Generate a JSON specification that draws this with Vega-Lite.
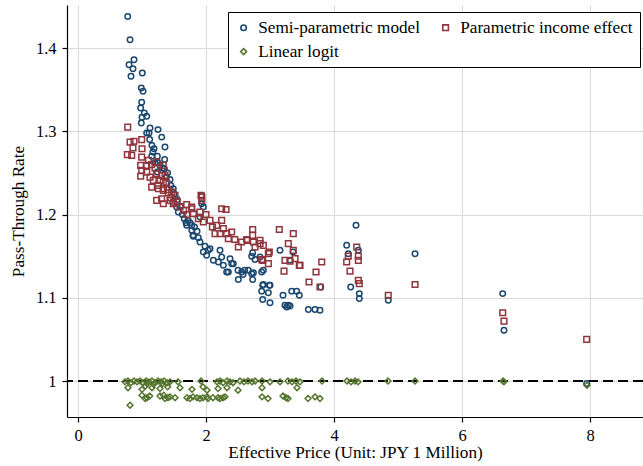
{
  "$schema": "https://vega.github.io/schema/vega-lite/v6.json",
  "autosize": "none",
  "width": 576,
  "height": 412,
  "padding": {"left": 67, "top": 5, "right": 0, "bottom": 49},
  "background": "white",
  "config": {
    "view": {"stroke": null},
    "axis": {
      "domainColor": "black", "domainWidth": 1.2, "tickColor": "black", "tickSize": 5, "tickWidth": 1.2,
      "labelFont": "Liberation Serif", "labelFontSize": 16.5, "labelColor": "black",
      "titleFont": "Liberation Serif", "titleFontSize": 17.2, "titleFontWeight": "normal", "titleColor": "black",
      "gridColor": "#d9d9d9", "gridWidth": 1
    },
    "legend": {
      "strokeColor": "black", "fillColor": "white", "padding": 7, "strokeWidth": 1,
      "labelFont": "Liberation Serif", "labelFontSize": 17.2, "labelColor": "black", "labelLimit": 300,
      "symbolSize": 24, "symbolStrokeWidth": 1.6, "labelOffset": 6, "columnPadding": 17, "rowPadding": 6
    }
  },
  "data": {"values": [
    {"series":"Semi-parametric model","price":0.777,"ptr":1.438},
    {"series":"Semi-parametric model","price":0.813,"ptr":1.410},
    {"series":"Semi-parametric model","price":0.875,"ptr":1.386},
    {"series":"Semi-parametric model","price":0.797,"ptr":1.380},
    {"series":"Semi-parametric model","price":0.859,"ptr":1.375},
    {"series":"Semi-parametric model","price":0.828,"ptr":1.366},
    {"series":"Semi-parametric model","price":1.005,"ptr":1.370},
    {"series":"Semi-parametric model","price":0.989,"ptr":1.352},
    {"series":"Semi-parametric model","price":1.016,"ptr":1.348},
    {"series":"Semi-parametric model","price":0.995,"ptr":1.335},
    {"series":"Semi-parametric model","price":0.979,"ptr":1.328},
    {"series":"Semi-parametric model","price":1.036,"ptr":1.322},
    {"series":"Semi-parametric model","price":1.073,"ptr":1.318},
    {"series":"Semi-parametric model","price":1.000,"ptr":1.317},
    {"series":"Semi-parametric model","price":0.989,"ptr":1.310},
    {"series":"Semi-parametric model","price":1.125,"ptr":1.304},
    {"series":"Semi-parametric model","price":1.250,"ptr":1.302},
    {"series":"Semi-parametric model","price":1.073,"ptr":1.298},
    {"series":"Semi-parametric model","price":1.110,"ptr":1.298},
    {"series":"Semi-parametric model","price":1.308,"ptr":1.293},
    {"series":"Semi-parametric model","price":1.120,"ptr":1.290},
    {"series":"Semi-parametric model","price":1.155,"ptr":1.283},
    {"series":"Semi-parametric model","price":1.359,"ptr":1.281},
    {"series":"Semi-parametric model","price":1.188,"ptr":1.279},
    {"series":"Semi-parametric model","price":1.151,"ptr":1.270},
    {"series":"Semi-parametric model","price":1.240,"ptr":1.270},
    {"series":"Semi-parametric model","price":1.354,"ptr":1.266},
    {"series":"Semi-parametric model","price":1.250,"ptr":1.262},
    {"series":"Semi-parametric model","price":1.281,"ptr":1.259},
    {"series":"Semi-parametric model","price":1.323,"ptr":1.256},
    {"series":"Semi-parametric model","price":1.240,"ptr":1.251},
    {"series":"Semi-parametric model","price":1.380,"ptr":1.245},
    {"series":"Semi-parametric model","price":1.438,"ptr":1.242},
    {"series":"Semi-parametric model","price":1.489,"ptr":1.231},
    {"series":"Semi-parametric model","price":1.542,"ptr":1.209},
    {"series":"Semi-parametric model","price":1.567,"ptr":1.203},
    {"series":"Semi-parametric model","price":1.933,"ptr":1.223},
    {"series":"Semi-parametric model","price":1.958,"ptr":1.209},
    {"series":"Semi-parametric model","price":1.933,"ptr":1.213},
    {"series":"Semi-parametric model","price":1.698,"ptr":1.187},
    {"series":"Semi-parametric model","price":1.778,"ptr":1.181},
    {"series":"Semi-parametric model","price":1.797,"ptr":1.175},
    {"series":"Semi-parametric model","price":1.778,"ptr":1.187},
    {"series":"Semi-parametric model","price":1.906,"ptr":1.197},
    {"series":"Semi-parametric model","price":1.906,"ptr":1.167},
    {"series":"Semi-parametric model","price":1.984,"ptr":1.162},
    {"series":"Semi-parametric model","price":2.063,"ptr":1.159},
    {"series":"Semi-parametric model","price":1.958,"ptr":1.155},
    {"series":"Semi-parametric model","price":2.010,"ptr":1.151},
    {"series":"Semi-parametric model","price":2.115,"ptr":1.145},
    {"series":"Semi-parametric model","price":2.219,"ptr":1.157},
    {"series":"Semi-parametric model","price":2.245,"ptr":1.149},
    {"series":"Semi-parametric model","price":2.193,"ptr":1.143},
    {"series":"Semi-parametric model","price":2.271,"ptr":1.139},
    {"series":"Semi-parametric model","price":2.375,"ptr":1.147},
    {"series":"Semi-parametric model","price":2.401,"ptr":1.141},
    {"series":"Semi-parametric model","price":2.349,"ptr":1.131},
    {"series":"Semi-parametric model","price":2.557,"ptr":1.131},
    {"series":"Semi-parametric model","price":2.661,"ptr":1.133},
    {"series":"Semi-parametric model","price":2.714,"ptr":1.129},
    {"series":"Semi-parametric model","price":2.505,"ptr":1.122},
    {"series":"Semi-parametric model","price":2.729,"ptr":1.122},
    {"series":"Semi-parametric model","price":2.844,"ptr":1.149},
    {"series":"Semi-parametric model","price":2.714,"ptr":1.150},
    {"series":"Semi-parametric model","price":2.896,"ptr":1.133},
    {"series":"Semi-parametric model","price":3.000,"ptr":1.115},
    {"series":"Semi-parametric model","price":2.886,"ptr":1.115},
    {"series":"Semi-parametric model","price":3.156,"ptr":1.157},
    {"series":"Semi-parametric model","price":3.360,"ptr":1.155},
    {"series":"Semi-parametric model","price":2.729,"ptr":1.154},
    {"series":"Semi-parametric model","price":2.766,"ptr":1.146},
    {"series":"Semi-parametric model","price":2.500,"ptr":1.133},
    {"series":"Semi-parametric model","price":2.604,"ptr":1.133},
    {"series":"Semi-parametric model","price":2.578,"ptr":1.128},
    {"series":"Semi-parametric model","price":2.740,"ptr":1.130},
    {"series":"Semi-parametric model","price":2.870,"ptr":1.131},
    {"series":"Semi-parametric model","price":2.896,"ptr":1.116},
    {"series":"Semi-parametric model","price":2.990,"ptr":1.115},
    {"series":"Semi-parametric model","price":2.870,"ptr":1.108},
    {"series":"Semi-parametric model","price":2.974,"ptr":1.106},
    {"series":"Semi-parametric model","price":2.886,"ptr":1.098},
    {"series":"Semi-parametric model","price":3.000,"ptr":1.094},
    {"series":"Semi-parametric model","price":3.313,"ptr":1.145},
    {"series":"Semi-parametric model","price":3.203,"ptr":1.103},
    {"series":"Semi-parametric model","price":3.339,"ptr":1.108},
    {"series":"Semi-parametric model","price":3.417,"ptr":1.108},
    {"series":"Semi-parametric model","price":3.458,"ptr":1.103},
    {"series":"Semi-parametric model","price":3.234,"ptr":1.091},
    {"series":"Semi-parametric model","price":3.260,"ptr":1.089},
    {"series":"Semi-parametric model","price":3.286,"ptr":1.091},
    {"series":"Semi-parametric model","price":3.313,"ptr":1.090},
    {"series":"Semi-parametric model","price":3.599,"ptr":1.086},
    {"series":"Semi-parametric model","price":3.703,"ptr":1.086},
    {"series":"Semi-parametric model","price":3.781,"ptr":1.085},
    {"series":"Semi-parametric model","price":3.792,"ptr":1.113},
    {"series":"Semi-parametric model","price":4.344,"ptr":1.187},
    {"series":"Semi-parametric model","price":4.198,"ptr":1.163},
    {"series":"Semi-parametric model","price":4.223,"ptr":1.153},
    {"series":"Semi-parametric model","price":4.261,"ptr":1.113},
    {"series":"Semi-parametric model","price":4.380,"ptr":1.157},
    {"series":"Semi-parametric model","price":4.395,"ptr":1.105},
    {"series":"Semi-parametric model","price":4.395,"ptr":1.099},
    {"series":"Semi-parametric model","price":4.848,"ptr":1.097},
    {"series":"Semi-parametric model","price":5.266,"ptr":1.153},
    {"series":"Semi-parametric model","price":6.636,"ptr":1.105},
    {"series":"Semi-parametric model","price":6.656,"ptr":1.061},
    {"series":"Semi-parametric model","price":7.948,"ptr":0.997},
    {"series":"Semi-parametric model","price":1.350,"ptr":1.255},
    {"series":"Semi-parametric model","price":1.400,"ptr":1.250},
    {"series":"Semi-parametric model","price":1.450,"ptr":1.235},
    {"series":"Semi-parametric model","price":1.500,"ptr":1.225},
    {"series":"Semi-parametric model","price":1.550,"ptr":1.218},
    {"series":"Semi-parametric model","price":1.600,"ptr":1.210},
    {"series":"Semi-parametric model","price":1.630,"ptr":1.200},
    {"series":"Semi-parametric model","price":1.660,"ptr":1.195},
    {"series":"Semi-parametric model","price":1.720,"ptr":1.193},
    {"series":"Semi-parametric model","price":1.750,"ptr":1.190},
    {"series":"Semi-parametric model","price":1.820,"ptr":1.185},
    {"series":"Semi-parametric model","price":1.860,"ptr":1.180},
    {"series":"Semi-parametric model","price":1.880,"ptr":1.172},
    {"series":"Semi-parametric model","price":1.200,"ptr":1.262},
    {"series":"Semi-parametric model","price":1.170,"ptr":1.275},
    {"series":"Semi-parametric model","price":1.688,"ptr":1.190},
    {"series":"Semi-parametric model","price":1.800,"ptr":1.174},
    {"series":"Semi-parametric model","price":2.036,"ptr":1.157},
    {"series":"Semi-parametric model","price":2.323,"ptr":1.131},
    {"series":"Semi-parametric model","price":2.427,"ptr":1.141},

    {"series":"Parametric income effect","price":0.777,"ptr":1.305},
    {"series":"Parametric income effect","price":0.813,"ptr":1.287},
    {"series":"Parametric income effect","price":0.875,"ptr":1.288},
    {"series":"Parametric income effect","price":0.995,"ptr":1.290},
    {"series":"Parametric income effect","price":0.859,"ptr":1.280},
    {"series":"Parametric income effect","price":1.000,"ptr":1.279},
    {"series":"Parametric income effect","price":0.771,"ptr":1.272},
    {"series":"Parametric income effect","price":0.839,"ptr":1.271},
    {"series":"Parametric income effect","price":0.995,"ptr":1.269},
    {"series":"Parametric income effect","price":0.979,"ptr":1.259},
    {"series":"Parametric income effect","price":1.073,"ptr":1.259},
    {"series":"Parametric income effect","price":1.229,"ptr":1.263},
    {"series":"Parametric income effect","price":1.333,"ptr":1.259},
    {"series":"Parametric income effect","price":0.995,"ptr":1.253},
    {"series":"Parametric income effect","price":1.073,"ptr":1.251},
    {"series":"Parametric income effect","price":1.203,"ptr":1.256},
    {"series":"Parametric income effect","price":1.229,"ptr":1.249},
    {"series":"Parametric income effect","price":1.359,"ptr":1.247},
    {"series":"Parametric income effect","price":0.979,"ptr":1.246},
    {"series":"Parametric income effect","price":1.125,"ptr":1.245},
    {"series":"Parametric income effect","price":1.177,"ptr":1.241},
    {"series":"Parametric income effect","price":1.281,"ptr":1.241},
    {"series":"Parametric income effect","price":1.385,"ptr":1.238},
    {"series":"Parametric income effect","price":1.151,"ptr":1.233},
    {"series":"Parametric income effect","price":1.255,"ptr":1.231},
    {"series":"Parametric income effect","price":1.333,"ptr":1.229},
    {"series":"Parametric income effect","price":1.411,"ptr":1.226},
    {"series":"Parametric income effect","price":1.229,"ptr":1.217},
    {"series":"Parametric income effect","price":1.307,"ptr":1.219},
    {"series":"Parametric income effect","price":1.438,"ptr":1.217},
    {"series":"Parametric income effect","price":1.489,"ptr":1.213},
    {"series":"Parametric income effect","price":1.698,"ptr":1.212},
    {"series":"Parametric income effect","price":1.594,"ptr":1.209},
    {"series":"Parametric income effect","price":1.776,"ptr":1.209},
    {"series":"Parametric income effect","price":1.922,"ptr":1.223},
    {"series":"Parametric income effect","price":1.933,"ptr":1.217},
    {"series":"Parametric income effect","price":1.307,"ptr":1.247},
    {"series":"Parametric income effect","price":1.333,"ptr":1.239},
    {"series":"Parametric income effect","price":1.333,"ptr":1.231},
    {"series":"Parametric income effect","price":1.333,"ptr":1.213},
    {"series":"Parametric income effect","price":1.464,"ptr":1.227},
    {"series":"Parametric income effect","price":1.490,"ptr":1.215},
    {"series":"Parametric income effect","price":1.516,"ptr":1.223},
    {"series":"Parametric income effect","price":1.776,"ptr":1.207},
    {"series":"Parametric income effect","price":1.802,"ptr":1.201},
    {"series":"Parametric income effect","price":1.906,"ptr":1.203},
    {"series":"Parametric income effect","price":1.933,"ptr":1.221},
    {"series":"Parametric income effect","price":1.880,"ptr":1.195},
    {"series":"Parametric income effect","price":1.958,"ptr":1.191},
    {"series":"Parametric income effect","price":2.063,"ptr":1.193},
    {"series":"Parametric income effect","price":2.245,"ptr":1.207},
    {"series":"Parametric income effect","price":2.313,"ptr":1.206},
    {"series":"Parametric income effect","price":2.245,"ptr":1.193},
    {"series":"Parametric income effect","price":2.167,"ptr":1.187},
    {"series":"Parametric income effect","price":2.271,"ptr":1.183},
    {"series":"Parametric income effect","price":2.323,"ptr":1.177},
    {"series":"Parametric income effect","price":2.401,"ptr":1.179},
    {"series":"Parametric income effect","price":2.349,"ptr":1.171},
    {"series":"Parametric income effect","price":2.219,"ptr":1.177},
    {"series":"Parametric income effect","price":2.141,"ptr":1.177},
    {"series":"Parametric income effect","price":2.557,"ptr":1.167},
    {"series":"Parametric income effect","price":2.505,"ptr":1.161},
    {"series":"Parametric income effect","price":2.646,"ptr":1.169},
    {"series":"Parametric income effect","price":2.729,"ptr":1.182},
    {"series":"Parametric income effect","price":2.729,"ptr":1.175},
    {"series":"Parametric income effect","price":2.844,"ptr":1.169},
    {"series":"Parametric income effect","price":2.896,"ptr":1.163},
    {"series":"Parametric income effect","price":2.766,"ptr":1.161},
    {"series":"Parametric income effect","price":2.989,"ptr":1.155},
    {"series":"Parametric income effect","price":2.886,"ptr":1.145},
    {"series":"Parametric income effect","price":3.145,"ptr":1.182},
    {"series":"Parametric income effect","price":2.636,"ptr":1.170},
    {"series":"Parametric income effect","price":2.740,"ptr":1.167},
    {"series":"Parametric income effect","price":2.844,"ptr":1.165},
    {"series":"Parametric income effect","price":2.974,"ptr":1.153},
    {"series":"Parametric income effect","price":2.870,"ptr":1.146},
    {"series":"Parametric income effect","price":2.974,"ptr":1.141},
    {"series":"Parametric income effect","price":3.364,"ptr":1.177},
    {"series":"Parametric income effect","price":3.286,"ptr":1.165},
    {"series":"Parametric income effect","price":3.364,"ptr":1.157},
    {"series":"Parametric income effect","price":3.234,"ptr":1.145},
    {"series":"Parametric income effect","price":3.313,"ptr":1.144},
    {"series":"Parametric income effect","price":3.391,"ptr":1.147},
    {"series":"Parametric income effect","price":3.458,"ptr":1.139},
    {"series":"Parametric income effect","price":3.219,"ptr":1.132},
    {"series":"Parametric income effect","price":3.469,"ptr":1.139},
    {"series":"Parametric income effect","price":3.808,"ptr":1.143},
    {"series":"Parametric income effect","price":3.719,"ptr":1.131},
    {"series":"Parametric income effect","price":3.609,"ptr":1.119},
    {"series":"Parametric income effect","price":3.781,"ptr":1.113},
    {"series":"Parametric income effect","price":4.355,"ptr":1.161},
    {"series":"Parametric income effect","price":4.198,"ptr":1.143},
    {"series":"Parametric income effect","price":4.250,"ptr":1.132},
    {"series":"Parametric income effect","price":4.380,"ptr":1.121},
    {"series":"Parametric income effect","price":4.223,"ptr":1.150},
    {"series":"Parametric income effect","price":4.380,"ptr":1.150},
    {"series":"Parametric income effect","price":4.380,"ptr":1.145},
    {"series":"Parametric income effect","price":4.395,"ptr":1.117},
    {"series":"Parametric income effect","price":4.848,"ptr":1.103},
    {"series":"Parametric income effect","price":5.266,"ptr":1.116},
    {"series":"Parametric income effect","price":6.636,"ptr":1.082},
    {"series":"Parametric income effect","price":6.656,"ptr":1.072},
    {"series":"Parametric income effect","price":7.948,"ptr":1.050},
    {"series":"Parametric income effect","price":1.100,"ptr":1.265},
    {"series":"Parametric income effect","price":1.150,"ptr":1.260},
    {"series":"Parametric income effect","price":1.250,"ptr":1.235},
    {"series":"Parametric income effect","price":1.400,"ptr":1.230},
    {"series":"Parametric income effect","price":1.450,"ptr":1.220},
    {"series":"Parametric income effect","price":1.550,"ptr":1.215},
    {"series":"Parametric income effect","price":1.650,"ptr":1.205},
    {"series":"Parametric income effect","price":1.700,"ptr":1.200},
    {"series":"Parametric income effect","price":2.000,"ptr":1.200},
    {"series":"Parametric income effect","price":2.100,"ptr":1.185},
    {"series":"Parametric income effect","price":2.450,"ptr":1.170},

    {"series":"Linear logit","price":0.734,"ptr":0.999},
    {"series":"Linear logit","price":0.781,"ptr":1.000},
    {"series":"Linear logit","price":0.828,"ptr":0.998},
    {"series":"Linear logit","price":0.875,"ptr":1.000},
    {"series":"Linear logit","price":0.922,"ptr":0.999},
    {"series":"Linear logit","price":0.969,"ptr":1.000},
    {"series":"Linear logit","price":1.016,"ptr":0.998},
    {"series":"Linear logit","price":1.063,"ptr":1.000},
    {"series":"Linear logit","price":1.109,"ptr":0.999},
    {"series":"Linear logit","price":1.156,"ptr":1.000},
    {"series":"Linear logit","price":1.203,"ptr":0.998},
    {"series":"Linear logit","price":1.250,"ptr":1.000},
    {"series":"Linear logit","price":1.297,"ptr":0.999},
    {"series":"Linear logit","price":1.344,"ptr":1.000},
    {"series":"Linear logit","price":1.391,"ptr":0.998},
    {"series":"Linear logit","price":1.438,"ptr":0.999},
    {"series":"Linear logit","price":1.563,"ptr":0.999},
    {"series":"Linear logit","price":1.922,"ptr":1.000},
    {"series":"Linear logit","price":2.172,"ptr":0.999},
    {"series":"Linear logit","price":2.219,"ptr":1.000},
    {"series":"Linear logit","price":2.266,"ptr":0.998},
    {"series":"Linear logit","price":2.328,"ptr":1.000},
    {"series":"Linear logit","price":2.375,"ptr":0.999},
    {"series":"Linear logit","price":2.422,"ptr":0.998},
    {"series":"Linear logit","price":2.531,"ptr":1.000},
    {"series":"Linear logit","price":2.594,"ptr":0.999},
    {"series":"Linear logit","price":2.656,"ptr":1.000},
    {"series":"Linear logit","price":2.719,"ptr":0.999},
    {"series":"Linear logit","price":2.766,"ptr":1.000},
    {"series":"Linear logit","price":2.875,"ptr":1.000},
    {"series":"Linear logit","price":3.000,"ptr":0.999},
    {"series":"Linear logit","price":3.156,"ptr":0.999},
    {"series":"Linear logit","price":3.281,"ptr":1.000},
    {"series":"Linear logit","price":3.344,"ptr":0.999},
    {"series":"Linear logit","price":3.406,"ptr":1.000},
    {"series":"Linear logit","price":3.469,"ptr":0.999},
    {"series":"Linear logit","price":3.813,"ptr":1.000},
    {"series":"Linear logit","price":4.203,"ptr":1.000},
    {"series":"Linear logit","price":4.266,"ptr":0.999},
    {"series":"Linear logit","price":4.328,"ptr":1.000},
    {"series":"Linear logit","price":4.375,"ptr":0.999},
    {"series":"Linear logit","price":4.844,"ptr":1.000},
    {"series":"Linear logit","price":5.266,"ptr":1.000},
    {"series":"Linear logit","price":6.641,"ptr":1.000},
    {"series":"Linear logit","price":6.656,"ptr":0.999},
    {"series":"Linear logit","price":7.953,"ptr":0.995},
    {"series":"Linear logit","price":1.080,"ptr":0.997},
    {"series":"Linear logit","price":1.180,"ptr":0.996},
    {"series":"Linear logit","price":1.320,"ptr":0.997},
    {"series":"Linear logit","price":0.781,"ptr":0.992},
    {"series":"Linear logit","price":1.000,"ptr":0.990},
    {"series":"Linear logit","price":1.156,"ptr":0.992},
    {"series":"Linear logit","price":1.281,"ptr":0.991},
    {"series":"Linear logit","price":1.594,"ptr":0.992},
    {"series":"Linear logit","price":1.781,"ptr":0.990},
    {"series":"Linear logit","price":1.953,"ptr":0.993},
    {"series":"Linear logit","price":2.016,"ptr":0.989},
    {"series":"Linear logit","price":2.188,"ptr":0.991},
    {"series":"Linear logit","price":2.328,"ptr":0.992},
    {"series":"Linear logit","price":2.500,"ptr":0.989},
    {"series":"Linear logit","price":2.875,"ptr":0.992},
    {"series":"Linear logit","price":3.422,"ptr":0.992},
    {"series":"Linear logit","price":1.400,"ptr":0.993},
    {"series":"Linear logit","price":1.050,"ptr":0.994},
    {"series":"Linear logit","price":1.000,"ptr":0.983},
    {"series":"Linear logit","price":1.078,"ptr":0.980},
    {"series":"Linear logit","price":1.281,"ptr":0.982},
    {"series":"Linear logit","price":1.359,"ptr":0.979},
    {"series":"Linear logit","price":1.406,"ptr":0.980},
    {"series":"Linear logit","price":1.438,"ptr":0.981},
    {"series":"Linear logit","price":1.516,"ptr":0.980},
    {"series":"Linear logit","price":1.703,"ptr":0.980},
    {"series":"Linear logit","price":1.750,"ptr":0.979},
    {"series":"Linear logit","price":1.797,"ptr":0.981},
    {"series":"Linear logit","price":1.859,"ptr":0.980},
    {"series":"Linear logit","price":1.906,"ptr":0.979},
    {"series":"Linear logit","price":1.953,"ptr":0.980},
    {"series":"Linear logit","price":2.016,"ptr":0.981},
    {"series":"Linear logit","price":2.031,"ptr":0.979},
    {"series":"Linear logit","price":2.109,"ptr":0.980},
    {"series":"Linear logit","price":2.188,"ptr":0.980},
    {"series":"Linear logit","price":2.219,"ptr":0.979},
    {"series":"Linear logit","price":2.266,"ptr":0.980},
    {"series":"Linear logit","price":2.297,"ptr":0.981},
    {"series":"Linear logit","price":2.875,"ptr":0.981},
    {"series":"Linear logit","price":2.969,"ptr":0.979},
    {"series":"Linear logit","price":3.203,"ptr":0.982},
    {"series":"Linear logit","price":3.250,"ptr":0.980},
    {"series":"Linear logit","price":3.281,"ptr":0.979},
    {"series":"Linear logit","price":3.594,"ptr":0.979},
    {"series":"Linear logit","price":3.703,"ptr":0.981},
    {"series":"Linear logit","price":3.781,"ptr":0.979},
    {"series":"Linear logit","price":1.050,"ptr":0.979},
    {"series":"Linear logit","price":1.120,"ptr":0.982},
    {"series":"Linear logit","price":1.340,"ptr":0.983},
    {"series":"Linear logit","price":0.813,"ptr":0.971}
  ]},
  "layer": [
    {
      "mark": {"type": "rule", "color": "black", "strokeWidth": 1.6, "strokeDash": [10, 5]},
      "encoding": {"y": {"datum": 1, "type": "quantitative"}}
    },
    {
      "mark": {"type": "point", "filled": false, "strokeWidth": 1.5, "opacity": 1},
      "encoding": {
        "x": {
          "field": "price", "type": "quantitative",
          "scale": {"domain": [-0.172, 8.828], "nice": false, "zero": false},
          "axis": {"values": [0, 2, 4, 6, 8], "title": "Effective Price (Unit: JPY 1 Million)", "grid": true, "labelPadding": 5, "titlePadding": 0, "format": "d"}
        },
        "y": {
          "field": "ptr", "type": "quantitative",
          "scale": {"domain": [0.9568, 1.4517], "nice": false, "zero": false},
          "axis": {"values": [1, 1.1, 1.2, 1.3, 1.4], "format": ".1~f", "title": "Pass-Through Rate", "grid": true, "labelPadding": 6, "titlePadding": 8}
        },
        "color": {
          "field": "series", "type": "nominal",
          "scale": {"domain": ["Semi-parametric model", "Parametric income effect", "Linear logit"], "range": ["#1a476f", "#90353b", "#55752f"]},
          "legend": {"title": null, "orient": "none", "legendX": 161, "legendY": 7, "columns": 2, "direction": "horizontal"}
        },
        "shape": {
          "field": "series", "type": "nominal",
          "scale": {"domain": ["Semi-parametric model", "Parametric income effect", "Linear logit"], "range": ["circle", "square", "diamond"]},
          "legend": {"title": null, "orient": "none", "legendX": 161, "legendY": 7, "columns": 2, "direction": "horizontal"}
        },
        "size": {
          "field": "series", "type": "nominal",
          "scale": {"domain": ["Semi-parametric model", "Parametric income effect", "Linear logit"], "range": [30, 34, 38]},
          "legend": null
        }
      }
    }
  ]
}
